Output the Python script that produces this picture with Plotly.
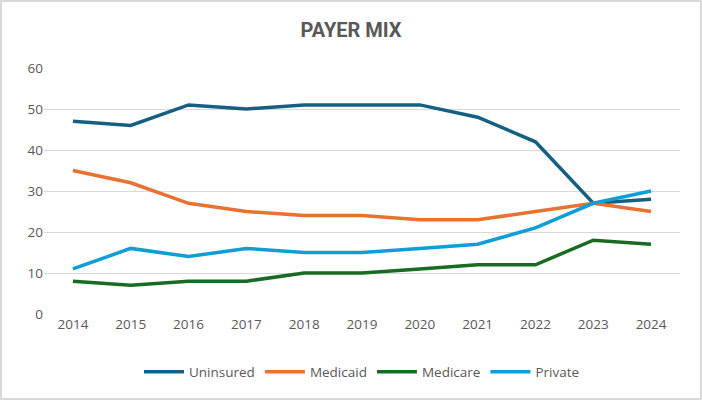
import plotly.graph_objects as go

years = ["2014", "2015", "2016", "2017", "2018", "2019", "2020", "2021", "2022", "2023", "2024"]
uninsured = [47, 46, 51, 50, 51, 51, 51, 48, 42, 27, 28]
medicaid = [35, 32, 27, 25, 24, 24, 23, 23, 25, 27, 25]
medicare = [8, 7, 8, 8, 10, 10, 11, 12, 12, 18, 17]
private = [11, 16, 14, 16, 15, 15, 16, 17, 21, 27, 30]

series = [
    ("Uninsured", uninsured, "#156082"),
    ("Medicaid", medicaid, "#E97132"),
    ("Medicare", medicare, "#196B24"),
    ("Private", private, "#0F9ED5"),
]

fig = go.Figure()
for name, vals, color in series:
    fig.add_trace(go.Scatter(
        x=years, y=vals, name=name, mode="lines",
        line=dict(color=color, width=3.5, shape="linear"),
    ))

W, H = 702, 400
L, R, T, B = 44, 22, 68, 86
pw, ph = W - L - R, H - T - B

fig.update_layout(
    width=W, height=H,
    margin=dict(l=L, r=R, t=T, b=B),
    paper_bgcolor="white", plot_bgcolor="white",
    font=dict(family="Open Sans, DejaVu Sans, sans-serif", size=13, color="#595959"),
    title=dict(text="<b>PAYER MIX</b>", x=0.5, xanchor="center", y=1 - 30 / H, yanchor="middle",
               font=dict(family="Roboto, Open Sans, sans-serif", size=20, color="#595959")),
    showlegend=True,
    legend=dict(orientation="h", x=0.5, xanchor="center", y=(ph - (372 - T)) / ph,
                yanchor="middle", font=dict(size=13.5, color="#595959"), itemwidth=40,
                traceorder="normal"),
    xaxis=dict(type="category", range=[-0.5, 10.5], showgrid=False, zeroline=False, showline=False,
               ticks="", tickfont=dict(size=13.5, color="#595959")),
    yaxis=dict(range=[0, 60], dtick=10, showgrid=True, gridcolor="#D9D9D9", gridwidth=1,
               zeroline=False, showline=False, ticks="", tickfont=dict(size=13.5, color="#595959")),
    shapes=[dict(type="rect", xref="paper", yref="paper",
                 x0=(1 - L) / pw, x1=(W - 1 - L) / pw,
                 y0=(T + ph - (H - 1)) / ph, y1=(T + ph - 1) / ph,
                 line=dict(color="#D9D9D9", width=2), fillcolor="rgba(0,0,0,0)", layer="below")],
)

fig.write_html("out.html", config={"displayModeBar": False},
               post_script="document.body.style.margin='0';document.body.style.overflow='hidden';")
